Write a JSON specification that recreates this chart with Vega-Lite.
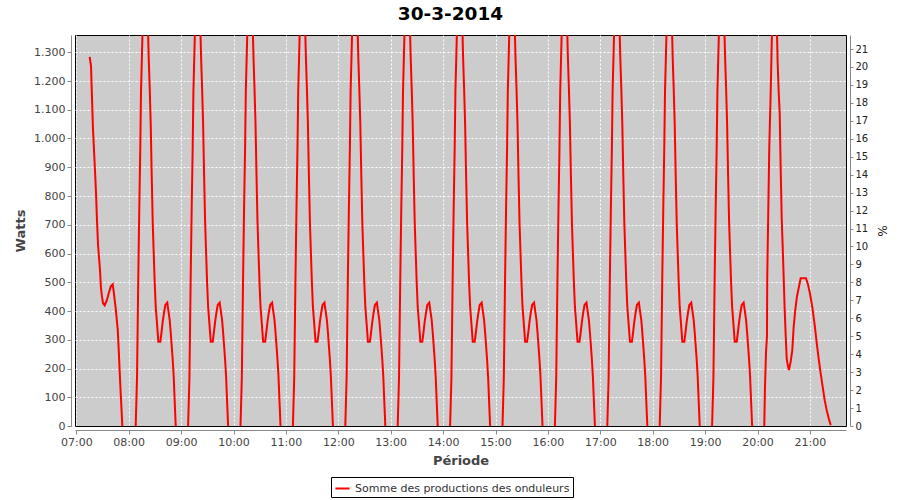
{
"$schema": "https://vega.github.io/schema/vega-lite/v6.json",
"width": 771,
"height": 391,
"autosize": {"type": "none"},
"padding": {"left": 75, "top": 35, "right": 54, "bottom": 74},
"background": "white",
"title": {"text": "30-3-2014", "font": "DejaVu Sans", "fontSize": 18.5, "fontWeight": "bold", "color": "black", "anchor": "middle", "offset": 12, "dx": -10},
"config": {
  "view": {"stroke": "black", "strokeWidth": 1, "fill": "#cccccc"},
  "axis": {"domainColor": "#888888", "tickColor": "#888888", "tickSize": 4, "labelColor": "#444444", "labelFont": "DejaVu Sans", "labelFontSize": 11, "titleFont": "DejaVu Sans", "titleFontSize": 13, "titleFontWeight": "bold", "titleColor": "#444444", "gridColor": "white", "gridDash": [2, 2], "gridOpacity": 1, "gridWidth": 1}
},
"data": {"values": [
{"t":"2014-03-30T07:15:20","w":1284,"c":7},
{"t":"2014-03-30T07:16:50","w":1252,"c":7},
{"t":"2014-03-30T07:18:00","w":1137,"c":7},
{"t":"2014-03-30T07:19:05","w":1033,"c":7},
{"t":"2014-03-30T07:20:15","w":960,"c":7},
{"t":"2014-03-30T07:21:25","w":887,"c":7},
{"t":"2014-03-30T07:22:35","w":809,"c":7},
{"t":"2014-03-30T07:23:40","w":716,"c":7},
{"t":"2014-03-30T07:24:50","w":632,"c":7},
{"t":"2014-03-30T07:26:00","w":586,"c":7},
{"t":"2014-03-30T07:27:10","w":540,"c":7},
{"t":"2014-03-30T07:28:15","w":479,"c":7},
{"t":"2014-03-30T07:29:25","w":450,"c":7},
{"t":"2014-03-30T07:30:35","w":427,"c":7},
{"t":"2014-03-30T07:32:30","w":420,"c":7},
{"t":"2014-03-30T07:34:50","w":436,"c":7},
{"t":"2014-03-30T07:37:05","w":461,"c":7},
{"t":"2014-03-30T07:39:25","w":485,"c":7},
{"t":"2014-03-30T07:41:40","w":493,"c":7},
{"t":"2014-03-30T07:42:50","w":467,"c":7},
{"t":"2014-03-30T07:45:05","w":409,"c":7},
{"t":"2014-03-30T07:47:25","w":336,"c":7},
{"t":"2014-03-30T07:48:35","w":264,"c":7},
{"t":"2014-03-30T07:49:40","w":189,"c":7},
{"t":"2014-03-30T07:50:50","w":114,"c":7},
{"t":"2014-03-30T07:52:00","w":44,"c":7},
{"t":"2014-03-30T07:52:40","w":0,"c":7},
{"t":"2014-03-30T08:08:00","w":0,"c":8},
{"t":"2014-03-30T08:09:30","w":165,"c":8},
{"t":"2014-03-30T08:11:00","w":525,"c":8},
{"t":"2014-03-30T08:12:05","w":751,"c":8},
{"t":"2014-03-30T08:13:15","w":966,"c":8},
{"t":"2014-03-30T08:14:05","w":1163,"c":8},
{"t":"2014-03-30T08:15:15","w":1302,"c":8},
{"t":"2014-03-30T08:19:00","w":1750,"c":8},
{"t":"2014-03-30T08:22:55","w":1279,"c":8},
{"t":"2014-03-30T08:24:00","w":1178,"c":8},
{"t":"2014-03-30T08:25:10","w":1055,"c":8},
{"t":"2014-03-30T08:26:20","w":871,"c":8},
{"t":"2014-03-30T08:27:30","w":707,"c":8},
{"t":"2014-03-30T08:28:35","w":606,"c":8},
{"t":"2014-03-30T08:29:45","w":500,"c":8},
{"t":"2014-03-30T08:30:55","w":415,"c":8},
{"t":"2014-03-30T08:32:05","w":369,"c":8},
{"t":"2014-03-30T08:33:10","w":325,"c":8},
{"t":"2014-03-30T08:33:55","w":293,"c":8},
{"t":"2014-03-30T08:36:10","w":293,"c":8},
{"t":"2014-03-30T08:37:20","w":320,"c":8},
{"t":"2014-03-30T08:38:55","w":362,"c":8},
{"t":"2014-03-30T08:40:25","w":394,"c":8},
{"t":"2014-03-30T08:41:55","w":421,"c":8},
{"t":"2014-03-30T08:44:10","w":429,"c":8},
{"t":"2014-03-30T08:45:20","w":403,"c":8},
{"t":"2014-03-30T08:46:55","w":369,"c":8},
{"t":"2014-03-30T08:48:05","w":326,"c":8},
{"t":"2014-03-30T08:49:15","w":278,"c":8},
{"t":"2014-03-30T08:50:20","w":232,"c":8},
{"t":"2014-03-30T08:51:30","w":172,"c":8},
{"t":"2014-03-30T08:52:40","w":85,"c":8},
{"t":"2014-03-30T08:53:50","w":0,"c":8},
{"t":"2014-03-30T09:08:00","w":0,"c":9},
{"t":"2014-03-30T09:09:30","w":165,"c":9},
{"t":"2014-03-30T09:11:00","w":525,"c":9},
{"t":"2014-03-30T09:12:05","w":751,"c":9},
{"t":"2014-03-30T09:13:15","w":966,"c":9},
{"t":"2014-03-30T09:14:05","w":1163,"c":9},
{"t":"2014-03-30T09:15:15","w":1302,"c":9},
{"t":"2014-03-30T09:19:00","w":1750,"c":9},
{"t":"2014-03-30T09:22:55","w":1279,"c":9},
{"t":"2014-03-30T09:24:00","w":1178,"c":9},
{"t":"2014-03-30T09:25:10","w":1055,"c":9},
{"t":"2014-03-30T09:26:20","w":871,"c":9},
{"t":"2014-03-30T09:27:30","w":707,"c":9},
{"t":"2014-03-30T09:28:35","w":606,"c":9},
{"t":"2014-03-30T09:29:45","w":500,"c":9},
{"t":"2014-03-30T09:30:55","w":415,"c":9},
{"t":"2014-03-30T09:32:05","w":369,"c":9},
{"t":"2014-03-30T09:33:10","w":325,"c":9},
{"t":"2014-03-30T09:33:55","w":293,"c":9},
{"t":"2014-03-30T09:36:10","w":293,"c":9},
{"t":"2014-03-30T09:37:20","w":320,"c":9},
{"t":"2014-03-30T09:38:55","w":362,"c":9},
{"t":"2014-03-30T09:40:25","w":394,"c":9},
{"t":"2014-03-30T09:41:55","w":421,"c":9},
{"t":"2014-03-30T09:44:10","w":429,"c":9},
{"t":"2014-03-30T09:45:20","w":403,"c":9},
{"t":"2014-03-30T09:46:55","w":369,"c":9},
{"t":"2014-03-30T09:48:05","w":326,"c":9},
{"t":"2014-03-30T09:49:15","w":278,"c":9},
{"t":"2014-03-30T09:50:20","w":232,"c":9},
{"t":"2014-03-30T09:51:30","w":172,"c":9},
{"t":"2014-03-30T09:52:40","w":85,"c":9},
{"t":"2014-03-30T09:53:50","w":0,"c":9},
{"t":"2014-03-30T10:08:00","w":0,"c":10},
{"t":"2014-03-30T10:09:30","w":165,"c":10},
{"t":"2014-03-30T10:11:00","w":525,"c":10},
{"t":"2014-03-30T10:12:05","w":751,"c":10},
{"t":"2014-03-30T10:13:15","w":966,"c":10},
{"t":"2014-03-30T10:14:05","w":1163,"c":10},
{"t":"2014-03-30T10:15:15","w":1302,"c":10},
{"t":"2014-03-30T10:19:00","w":1750,"c":10},
{"t":"2014-03-30T10:22:55","w":1279,"c":10},
{"t":"2014-03-30T10:24:00","w":1178,"c":10},
{"t":"2014-03-30T10:25:10","w":1055,"c":10},
{"t":"2014-03-30T10:26:20","w":871,"c":10},
{"t":"2014-03-30T10:27:30","w":707,"c":10},
{"t":"2014-03-30T10:28:35","w":606,"c":10},
{"t":"2014-03-30T10:29:45","w":500,"c":10},
{"t":"2014-03-30T10:30:55","w":415,"c":10},
{"t":"2014-03-30T10:32:05","w":369,"c":10},
{"t":"2014-03-30T10:33:10","w":325,"c":10},
{"t":"2014-03-30T10:33:55","w":293,"c":10},
{"t":"2014-03-30T10:36:10","w":293,"c":10},
{"t":"2014-03-30T10:37:20","w":320,"c":10},
{"t":"2014-03-30T10:38:55","w":362,"c":10},
{"t":"2014-03-30T10:40:25","w":394,"c":10},
{"t":"2014-03-30T10:41:55","w":421,"c":10},
{"t":"2014-03-30T10:44:10","w":429,"c":10},
{"t":"2014-03-30T10:45:20","w":403,"c":10},
{"t":"2014-03-30T10:46:55","w":369,"c":10},
{"t":"2014-03-30T10:48:05","w":326,"c":10},
{"t":"2014-03-30T10:49:15","w":278,"c":10},
{"t":"2014-03-30T10:50:20","w":232,"c":10},
{"t":"2014-03-30T10:51:30","w":172,"c":10},
{"t":"2014-03-30T10:52:40","w":85,"c":10},
{"t":"2014-03-30T10:53:50","w":0,"c":10},
{"t":"2014-03-30T11:08:00","w":0,"c":11},
{"t":"2014-03-30T11:09:30","w":165,"c":11},
{"t":"2014-03-30T11:11:00","w":525,"c":11},
{"t":"2014-03-30T11:12:05","w":751,"c":11},
{"t":"2014-03-30T11:13:15","w":966,"c":11},
{"t":"2014-03-30T11:14:05","w":1163,"c":11},
{"t":"2014-03-30T11:15:15","w":1302,"c":11},
{"t":"2014-03-30T11:19:00","w":1750,"c":11},
{"t":"2014-03-30T11:22:55","w":1279,"c":11},
{"t":"2014-03-30T11:24:00","w":1178,"c":11},
{"t":"2014-03-30T11:25:10","w":1055,"c":11},
{"t":"2014-03-30T11:26:20","w":871,"c":11},
{"t":"2014-03-30T11:27:30","w":707,"c":11},
{"t":"2014-03-30T11:28:35","w":606,"c":11},
{"t":"2014-03-30T11:29:45","w":500,"c":11},
{"t":"2014-03-30T11:30:55","w":415,"c":11},
{"t":"2014-03-30T11:32:05","w":369,"c":11},
{"t":"2014-03-30T11:33:10","w":325,"c":11},
{"t":"2014-03-30T11:33:55","w":293,"c":11},
{"t":"2014-03-30T11:36:10","w":293,"c":11},
{"t":"2014-03-30T11:37:20","w":320,"c":11},
{"t":"2014-03-30T11:38:55","w":362,"c":11},
{"t":"2014-03-30T11:40:25","w":394,"c":11},
{"t":"2014-03-30T11:41:55","w":421,"c":11},
{"t":"2014-03-30T11:44:10","w":429,"c":11},
{"t":"2014-03-30T11:45:20","w":403,"c":11},
{"t":"2014-03-30T11:46:55","w":369,"c":11},
{"t":"2014-03-30T11:48:05","w":326,"c":11},
{"t":"2014-03-30T11:49:15","w":278,"c":11},
{"t":"2014-03-30T11:50:20","w":232,"c":11},
{"t":"2014-03-30T11:51:30","w":172,"c":11},
{"t":"2014-03-30T11:52:40","w":85,"c":11},
{"t":"2014-03-30T11:53:50","w":0,"c":11},
{"t":"2014-03-30T12:08:00","w":0,"c":12},
{"t":"2014-03-30T12:09:30","w":165,"c":12},
{"t":"2014-03-30T12:11:00","w":525,"c":12},
{"t":"2014-03-30T12:12:05","w":751,"c":12},
{"t":"2014-03-30T12:13:15","w":966,"c":12},
{"t":"2014-03-30T12:14:05","w":1163,"c":12},
{"t":"2014-03-30T12:15:15","w":1302,"c":12},
{"t":"2014-03-30T12:19:00","w":1750,"c":12},
{"t":"2014-03-30T12:22:55","w":1279,"c":12},
{"t":"2014-03-30T12:24:00","w":1178,"c":12},
{"t":"2014-03-30T12:25:10","w":1055,"c":12},
{"t":"2014-03-30T12:26:20","w":871,"c":12},
{"t":"2014-03-30T12:27:30","w":707,"c":12},
{"t":"2014-03-30T12:28:35","w":606,"c":12},
{"t":"2014-03-30T12:29:45","w":500,"c":12},
{"t":"2014-03-30T12:30:55","w":415,"c":12},
{"t":"2014-03-30T12:32:05","w":369,"c":12},
{"t":"2014-03-30T12:33:10","w":325,"c":12},
{"t":"2014-03-30T12:33:55","w":293,"c":12},
{"t":"2014-03-30T12:36:10","w":293,"c":12},
{"t":"2014-03-30T12:37:20","w":320,"c":12},
{"t":"2014-03-30T12:38:55","w":362,"c":12},
{"t":"2014-03-30T12:40:25","w":394,"c":12},
{"t":"2014-03-30T12:41:55","w":421,"c":12},
{"t":"2014-03-30T12:44:10","w":429,"c":12},
{"t":"2014-03-30T12:45:20","w":403,"c":12},
{"t":"2014-03-30T12:46:55","w":369,"c":12},
{"t":"2014-03-30T12:48:05","w":326,"c":12},
{"t":"2014-03-30T12:49:15","w":278,"c":12},
{"t":"2014-03-30T12:50:20","w":232,"c":12},
{"t":"2014-03-30T12:51:30","w":172,"c":12},
{"t":"2014-03-30T12:52:40","w":85,"c":12},
{"t":"2014-03-30T12:53:50","w":0,"c":12},
{"t":"2014-03-30T13:08:00","w":0,"c":13},
{"t":"2014-03-30T13:09:30","w":165,"c":13},
{"t":"2014-03-30T13:11:00","w":525,"c":13},
{"t":"2014-03-30T13:12:05","w":751,"c":13},
{"t":"2014-03-30T13:13:15","w":966,"c":13},
{"t":"2014-03-30T13:14:05","w":1163,"c":13},
{"t":"2014-03-30T13:15:15","w":1302,"c":13},
{"t":"2014-03-30T13:19:00","w":1750,"c":13},
{"t":"2014-03-30T13:22:55","w":1279,"c":13},
{"t":"2014-03-30T13:24:00","w":1178,"c":13},
{"t":"2014-03-30T13:25:10","w":1055,"c":13},
{"t":"2014-03-30T13:26:20","w":871,"c":13},
{"t":"2014-03-30T13:27:30","w":707,"c":13},
{"t":"2014-03-30T13:28:35","w":606,"c":13},
{"t":"2014-03-30T13:29:45","w":500,"c":13},
{"t":"2014-03-30T13:30:55","w":415,"c":13},
{"t":"2014-03-30T13:32:05","w":369,"c":13},
{"t":"2014-03-30T13:33:10","w":325,"c":13},
{"t":"2014-03-30T13:33:55","w":293,"c":13},
{"t":"2014-03-30T13:36:10","w":293,"c":13},
{"t":"2014-03-30T13:37:20","w":320,"c":13},
{"t":"2014-03-30T13:38:55","w":362,"c":13},
{"t":"2014-03-30T13:40:25","w":394,"c":13},
{"t":"2014-03-30T13:41:55","w":421,"c":13},
{"t":"2014-03-30T13:44:10","w":429,"c":13},
{"t":"2014-03-30T13:45:20","w":403,"c":13},
{"t":"2014-03-30T13:46:55","w":369,"c":13},
{"t":"2014-03-30T13:48:05","w":326,"c":13},
{"t":"2014-03-30T13:49:15","w":278,"c":13},
{"t":"2014-03-30T13:50:20","w":232,"c":13},
{"t":"2014-03-30T13:51:30","w":172,"c":13},
{"t":"2014-03-30T13:52:40","w":85,"c":13},
{"t":"2014-03-30T13:53:50","w":0,"c":13},
{"t":"2014-03-30T14:08:00","w":0,"c":14},
{"t":"2014-03-30T14:09:30","w":165,"c":14},
{"t":"2014-03-30T14:11:00","w":525,"c":14},
{"t":"2014-03-30T14:12:05","w":751,"c":14},
{"t":"2014-03-30T14:13:15","w":966,"c":14},
{"t":"2014-03-30T14:14:05","w":1163,"c":14},
{"t":"2014-03-30T14:15:15","w":1302,"c":14},
{"t":"2014-03-30T14:19:00","w":1750,"c":14},
{"t":"2014-03-30T14:22:55","w":1279,"c":14},
{"t":"2014-03-30T14:24:00","w":1178,"c":14},
{"t":"2014-03-30T14:25:10","w":1055,"c":14},
{"t":"2014-03-30T14:26:20","w":871,"c":14},
{"t":"2014-03-30T14:27:30","w":707,"c":14},
{"t":"2014-03-30T14:28:35","w":606,"c":14},
{"t":"2014-03-30T14:29:45","w":500,"c":14},
{"t":"2014-03-30T14:30:55","w":415,"c":14},
{"t":"2014-03-30T14:32:05","w":369,"c":14},
{"t":"2014-03-30T14:33:10","w":325,"c":14},
{"t":"2014-03-30T14:33:55","w":293,"c":14},
{"t":"2014-03-30T14:36:10","w":293,"c":14},
{"t":"2014-03-30T14:37:20","w":320,"c":14},
{"t":"2014-03-30T14:38:55","w":362,"c":14},
{"t":"2014-03-30T14:40:25","w":394,"c":14},
{"t":"2014-03-30T14:41:55","w":421,"c":14},
{"t":"2014-03-30T14:44:10","w":429,"c":14},
{"t":"2014-03-30T14:45:20","w":403,"c":14},
{"t":"2014-03-30T14:46:55","w":369,"c":14},
{"t":"2014-03-30T14:48:05","w":326,"c":14},
{"t":"2014-03-30T14:49:15","w":278,"c":14},
{"t":"2014-03-30T14:50:20","w":232,"c":14},
{"t":"2014-03-30T14:51:30","w":172,"c":14},
{"t":"2014-03-30T14:52:40","w":85,"c":14},
{"t":"2014-03-30T14:53:50","w":0,"c":14},
{"t":"2014-03-30T15:08:00","w":0,"c":15},
{"t":"2014-03-30T15:09:30","w":165,"c":15},
{"t":"2014-03-30T15:11:00","w":525,"c":15},
{"t":"2014-03-30T15:12:05","w":751,"c":15},
{"t":"2014-03-30T15:13:15","w":966,"c":15},
{"t":"2014-03-30T15:14:05","w":1163,"c":15},
{"t":"2014-03-30T15:15:15","w":1302,"c":15},
{"t":"2014-03-30T15:19:00","w":1750,"c":15},
{"t":"2014-03-30T15:22:55","w":1279,"c":15},
{"t":"2014-03-30T15:24:00","w":1178,"c":15},
{"t":"2014-03-30T15:25:10","w":1055,"c":15},
{"t":"2014-03-30T15:26:20","w":871,"c":15},
{"t":"2014-03-30T15:27:30","w":707,"c":15},
{"t":"2014-03-30T15:28:35","w":606,"c":15},
{"t":"2014-03-30T15:29:45","w":500,"c":15},
{"t":"2014-03-30T15:30:55","w":415,"c":15},
{"t":"2014-03-30T15:32:05","w":369,"c":15},
{"t":"2014-03-30T15:33:10","w":325,"c":15},
{"t":"2014-03-30T15:33:55","w":293,"c":15},
{"t":"2014-03-30T15:36:10","w":293,"c":15},
{"t":"2014-03-30T15:37:20","w":320,"c":15},
{"t":"2014-03-30T15:38:55","w":362,"c":15},
{"t":"2014-03-30T15:40:25","w":394,"c":15},
{"t":"2014-03-30T15:41:55","w":421,"c":15},
{"t":"2014-03-30T15:44:10","w":429,"c":15},
{"t":"2014-03-30T15:45:20","w":403,"c":15},
{"t":"2014-03-30T15:46:55","w":369,"c":15},
{"t":"2014-03-30T15:48:05","w":326,"c":15},
{"t":"2014-03-30T15:49:15","w":278,"c":15},
{"t":"2014-03-30T15:50:20","w":232,"c":15},
{"t":"2014-03-30T15:51:30","w":172,"c":15},
{"t":"2014-03-30T15:52:40","w":85,"c":15},
{"t":"2014-03-30T15:53:50","w":0,"c":15},
{"t":"2014-03-30T16:08:00","w":0,"c":16},
{"t":"2014-03-30T16:09:30","w":165,"c":16},
{"t":"2014-03-30T16:11:00","w":525,"c":16},
{"t":"2014-03-30T16:12:05","w":751,"c":16},
{"t":"2014-03-30T16:13:15","w":966,"c":16},
{"t":"2014-03-30T16:14:05","w":1163,"c":16},
{"t":"2014-03-30T16:15:15","w":1302,"c":16},
{"t":"2014-03-30T16:19:00","w":1750,"c":16},
{"t":"2014-03-30T16:22:55","w":1279,"c":16},
{"t":"2014-03-30T16:24:00","w":1178,"c":16},
{"t":"2014-03-30T16:25:10","w":1055,"c":16},
{"t":"2014-03-30T16:26:20","w":871,"c":16},
{"t":"2014-03-30T16:27:30","w":707,"c":16},
{"t":"2014-03-30T16:28:35","w":606,"c":16},
{"t":"2014-03-30T16:29:45","w":500,"c":16},
{"t":"2014-03-30T16:30:55","w":415,"c":16},
{"t":"2014-03-30T16:32:05","w":369,"c":16},
{"t":"2014-03-30T16:33:10","w":325,"c":16},
{"t":"2014-03-30T16:33:55","w":293,"c":16},
{"t":"2014-03-30T16:36:10","w":293,"c":16},
{"t":"2014-03-30T16:37:20","w":320,"c":16},
{"t":"2014-03-30T16:38:55","w":362,"c":16},
{"t":"2014-03-30T16:40:25","w":394,"c":16},
{"t":"2014-03-30T16:41:55","w":421,"c":16},
{"t":"2014-03-30T16:44:10","w":429,"c":16},
{"t":"2014-03-30T16:45:20","w":403,"c":16},
{"t":"2014-03-30T16:46:55","w":369,"c":16},
{"t":"2014-03-30T16:48:05","w":326,"c":16},
{"t":"2014-03-30T16:49:15","w":278,"c":16},
{"t":"2014-03-30T16:50:20","w":232,"c":16},
{"t":"2014-03-30T16:51:30","w":172,"c":16},
{"t":"2014-03-30T16:52:40","w":85,"c":16},
{"t":"2014-03-30T16:53:50","w":0,"c":16},
{"t":"2014-03-30T17:08:00","w":0,"c":17},
{"t":"2014-03-30T17:09:30","w":165,"c":17},
{"t":"2014-03-30T17:11:00","w":525,"c":17},
{"t":"2014-03-30T17:12:05","w":751,"c":17},
{"t":"2014-03-30T17:13:15","w":966,"c":17},
{"t":"2014-03-30T17:14:05","w":1163,"c":17},
{"t":"2014-03-30T17:15:15","w":1302,"c":17},
{"t":"2014-03-30T17:19:00","w":1750,"c":17},
{"t":"2014-03-30T17:22:55","w":1279,"c":17},
{"t":"2014-03-30T17:24:00","w":1178,"c":17},
{"t":"2014-03-30T17:25:10","w":1055,"c":17},
{"t":"2014-03-30T17:26:20","w":871,"c":17},
{"t":"2014-03-30T17:27:30","w":707,"c":17},
{"t":"2014-03-30T17:28:35","w":606,"c":17},
{"t":"2014-03-30T17:29:45","w":500,"c":17},
{"t":"2014-03-30T17:30:55","w":415,"c":17},
{"t":"2014-03-30T17:32:05","w":369,"c":17},
{"t":"2014-03-30T17:33:10","w":325,"c":17},
{"t":"2014-03-30T17:33:55","w":293,"c":17},
{"t":"2014-03-30T17:36:10","w":293,"c":17},
{"t":"2014-03-30T17:37:20","w":320,"c":17},
{"t":"2014-03-30T17:38:55","w":362,"c":17},
{"t":"2014-03-30T17:40:25","w":394,"c":17},
{"t":"2014-03-30T17:41:55","w":421,"c":17},
{"t":"2014-03-30T17:44:10","w":429,"c":17},
{"t":"2014-03-30T17:45:20","w":403,"c":17},
{"t":"2014-03-30T17:46:55","w":369,"c":17},
{"t":"2014-03-30T17:48:05","w":326,"c":17},
{"t":"2014-03-30T17:49:15","w":278,"c":17},
{"t":"2014-03-30T17:50:20","w":232,"c":17},
{"t":"2014-03-30T17:51:30","w":172,"c":17},
{"t":"2014-03-30T17:52:40","w":85,"c":17},
{"t":"2014-03-30T17:53:50","w":0,"c":17},
{"t":"2014-03-30T18:08:00","w":0,"c":18},
{"t":"2014-03-30T18:09:30","w":165,"c":18},
{"t":"2014-03-30T18:11:00","w":525,"c":18},
{"t":"2014-03-30T18:12:05","w":751,"c":18},
{"t":"2014-03-30T18:13:15","w":966,"c":18},
{"t":"2014-03-30T18:14:05","w":1163,"c":18},
{"t":"2014-03-30T18:15:15","w":1302,"c":18},
{"t":"2014-03-30T18:19:00","w":1750,"c":18},
{"t":"2014-03-30T18:22:55","w":1279,"c":18},
{"t":"2014-03-30T18:24:00","w":1178,"c":18},
{"t":"2014-03-30T18:25:10","w":1055,"c":18},
{"t":"2014-03-30T18:26:20","w":871,"c":18},
{"t":"2014-03-30T18:27:30","w":707,"c":18},
{"t":"2014-03-30T18:28:35","w":606,"c":18},
{"t":"2014-03-30T18:29:45","w":500,"c":18},
{"t":"2014-03-30T18:30:55","w":415,"c":18},
{"t":"2014-03-30T18:32:05","w":369,"c":18},
{"t":"2014-03-30T18:33:10","w":325,"c":18},
{"t":"2014-03-30T18:33:55","w":293,"c":18},
{"t":"2014-03-30T18:36:10","w":293,"c":18},
{"t":"2014-03-30T18:37:20","w":320,"c":18},
{"t":"2014-03-30T18:38:55","w":362,"c":18},
{"t":"2014-03-30T18:40:25","w":394,"c":18},
{"t":"2014-03-30T18:41:55","w":421,"c":18},
{"t":"2014-03-30T18:44:10","w":429,"c":18},
{"t":"2014-03-30T18:45:20","w":403,"c":18},
{"t":"2014-03-30T18:46:55","w":369,"c":18},
{"t":"2014-03-30T18:48:05","w":326,"c":18},
{"t":"2014-03-30T18:49:15","w":278,"c":18},
{"t":"2014-03-30T18:50:20","w":232,"c":18},
{"t":"2014-03-30T18:51:30","w":172,"c":18},
{"t":"2014-03-30T18:52:40","w":85,"c":18},
{"t":"2014-03-30T18:53:50","w":0,"c":18},
{"t":"2014-03-30T19:08:00","w":0,"c":19},
{"t":"2014-03-30T19:09:30","w":165,"c":19},
{"t":"2014-03-30T19:11:00","w":525,"c":19},
{"t":"2014-03-30T19:12:05","w":751,"c":19},
{"t":"2014-03-30T19:13:15","w":966,"c":19},
{"t":"2014-03-30T19:14:05","w":1163,"c":19},
{"t":"2014-03-30T19:15:15","w":1302,"c":19},
{"t":"2014-03-30T19:19:00","w":1750,"c":19},
{"t":"2014-03-30T19:22:55","w":1279,"c":19},
{"t":"2014-03-30T19:24:00","w":1178,"c":19},
{"t":"2014-03-30T19:25:10","w":1055,"c":19},
{"t":"2014-03-30T19:26:20","w":871,"c":19},
{"t":"2014-03-30T19:27:30","w":707,"c":19},
{"t":"2014-03-30T19:28:35","w":606,"c":19},
{"t":"2014-03-30T19:29:45","w":500,"c":19},
{"t":"2014-03-30T19:30:55","w":415,"c":19},
{"t":"2014-03-30T19:32:05","w":369,"c":19},
{"t":"2014-03-30T19:33:10","w":325,"c":19},
{"t":"2014-03-30T19:33:55","w":293,"c":19},
{"t":"2014-03-30T19:36:10","w":293,"c":19},
{"t":"2014-03-30T19:37:20","w":320,"c":19},
{"t":"2014-03-30T19:38:55","w":362,"c":19},
{"t":"2014-03-30T19:40:25","w":394,"c":19},
{"t":"2014-03-30T19:41:55","w":421,"c":19},
{"t":"2014-03-30T19:44:10","w":429,"c":19},
{"t":"2014-03-30T19:45:20","w":403,"c":19},
{"t":"2014-03-30T19:46:55","w":369,"c":19},
{"t":"2014-03-30T19:48:05","w":326,"c":19},
{"t":"2014-03-30T19:49:15","w":278,"c":19},
{"t":"2014-03-30T19:50:20","w":232,"c":19},
{"t":"2014-03-30T19:51:30","w":172,"c":19},
{"t":"2014-03-30T19:52:40","w":85,"c":19},
{"t":"2014-03-30T19:53:50","w":0,"c":19},
{"t":"2014-03-30T20:07:45","w":0,"c":20},
{"t":"2014-03-30T20:08:35","w":137,"c":20},
{"t":"2014-03-30T20:09:45","w":258,"c":20},
{"t":"2014-03-30T20:10:50","w":311,"c":20},
{"t":"2014-03-30T20:11:10","w":519,"c":20},
{"t":"2014-03-30T20:12:20","w":745,"c":20},
{"t":"2014-03-30T20:13:30","w":972,"c":20},
{"t":"2014-03-30T20:15:05","w":1157,"c":20},
{"t":"2014-03-30T20:16:15","w":1325,"c":20},
{"t":"2014-03-30T20:19:25","w":1750,"c":20},
{"t":"2014-03-30T20:23:05","w":1262,"c":20},
{"t":"2014-03-30T20:24:15","w":1163,"c":20},
{"t":"2014-03-30T20:25:25","w":1088,"c":20},
{"t":"2014-03-30T20:26:30","w":902,"c":20},
{"t":"2014-03-30T20:27:40","w":728,"c":20},
{"t":"2014-03-30T20:28:50","w":624,"c":20},
{"t":"2014-03-30T20:30:00","w":514,"c":20},
{"t":"2014-03-30T20:31:05","w":409,"c":20},
{"t":"2014-03-30T20:32:15","w":317,"c":20},
{"t":"2014-03-30T20:33:25","w":235,"c":20},
{"t":"2014-03-30T20:34:35","w":212,"c":20},
{"t":"2014-03-30T20:36:00","w":195,"c":20},
{"t":"2014-03-30T20:38:00","w":224,"c":20},
{"t":"2014-03-30T20:39:50","w":264,"c":20},
{"t":"2014-03-30T20:41:25","w":345,"c":20},
{"t":"2014-03-30T20:43:15","w":403,"c":20},
{"t":"2014-03-30T20:45:10","w":450,"c":20},
{"t":"2014-03-30T20:47:30","w":485,"c":20},
{"t":"2014-03-30T20:49:25","w":514,"c":20},
{"t":"2014-03-30T20:55:30","w":514,"c":20},
{"t":"2014-03-30T20:57:30","w":496,"c":20},
{"t":"2014-03-30T21:00:05","w":461,"c":20},
{"t":"2014-03-30T21:02:40","w":415,"c":20},
{"t":"2014-03-30T21:05:30","w":351,"c":20},
{"t":"2014-03-30T21:07:50","w":288,"c":20},
{"t":"2014-03-30T21:10:00","w":235,"c":20},
{"t":"2014-03-30T21:12:20","w":183,"c":20},
{"t":"2014-03-30T21:14:35","w":137,"c":20},
{"t":"2014-03-30T21:16:55","w":90,"c":20},
{"t":"2014-03-30T21:19:10","w":56,"c":20},
{"t":"2014-03-30T21:21:30","w":27,"c":20},
{"t":"2014-03-30T21:23:50","w":3,"c":20}
]},
"layer": [
  {
    "mark": {"type": "line", "strokeWidth": 2, "clip": true},
    "encoding": {
      "x": {"field": "t", "type": "temporal",
        "scale": {"domain": [{"year": 2014, "month": 3, "date": 30, "hours": 6, "minutes": 58, "seconds": 30}, {"year": 2014, "month": 3, "date": 30, "hours": 21, "minutes": 41, "seconds": 20}], "nice": false},
        "axis": {"title": "Période", "format": "%H:%M", "values": [
          {"year": 2014, "month": 3, "date": 30, "hours": 7}, {"year": 2014, "month": 3, "date": 30, "hours": 8}, {"year": 2014, "month": 3, "date": 30, "hours": 9}, {"year": 2014, "month": 3, "date": 30, "hours": 10}, {"year": 2014, "month": 3, "date": 30, "hours": 11}, {"year": 2014, "month": 3, "date": 30, "hours": 12}, {"year": 2014, "month": 3, "date": 30, "hours": 13}, {"year": 2014, "month": 3, "date": 30, "hours": 14}, {"year": 2014, "month": 3, "date": 30, "hours": 15}, {"year": 2014, "month": 3, "date": 30, "hours": 16}, {"year": 2014, "month": 3, "date": 30, "hours": 17}, {"year": 2014, "month": 3, "date": 30, "hours": 18}, {"year": 2014, "month": 3, "date": 30, "hours": 19}, {"year": 2014, "month": 3, "date": 30, "hours": 20}, {"year": 2014, "month": 3, "date": 30, "hours": 21}],
          "offset": 4, "grid": true, "labelPadding": 2, "titlePadding": 7, "labelFlush": false, "labelOverlap": false}},
      "y": {"field": "w", "type": "quantitative",
        "scale": {"domain": [0, 1360], "nice": false},
        "axis": {"title": "Watts", "values": [0,100,200,300,400,500,600,700,800,900,1000,1100,1200,1300], "labelExpr": "datum.value >= 1000 ? floor(datum.value / 1000) + '.' + substring(toString(1000 + datum.value % 1000), 1, 4) : toString(datum.value)", "offset": 4, "grid": true, "gridOpacity": {"condition": {"test": "datum.value === 0", "value": 0}, "value": 1}, "labelPadding": 2, "titlePadding": 6}},
      "color": {"datum": "Somme des productions des onduleurs", "type": "nominal",
        "scale": {"range": ["#ff0000"]},
        "legend": {"title": null, "orient": "none", "legendX": 256, "legendY": 442, "labelLimit": 0, "strokeColor": "black", "padding": 3, "symbolType": "stroke", "symbolStrokeWidth": 2, "symbolSize": 200, "labelFont": "DejaVu Sans", "labelFontSize": 11, "labelColor": "#333333"}},
      "detail": {"field": "c", "type": "nominal"}
    }
  },
  {
    "data": {"values": [{"p": 0}, {"p": 21}]},
    "mark": {"type": "rule", "strokeOpacity": 0},
    "encoding": {
      "y": {"field": "p", "type": "quantitative",
        "scale": {"domain": [0, 21.78], "nice": false},
        "axis": {"orient": "right", "title": "%", "values": [0,1,2,3,4,5,6,7,8,9,10,11,12,13,14,15,16,17,18,19,20,21], "offset": 4, "grid": false, "tickSize": 3, "labelPadding": 2, "labelFontSize": 10, "labelColor": "#222222", "titleFontWeight": "normal", "titleFontSize": 12, "titleColor": "#222222", "titlePadding": 7}}
    }
  }
],
"resolve": {"scale": {"y": "independent"}}
}
